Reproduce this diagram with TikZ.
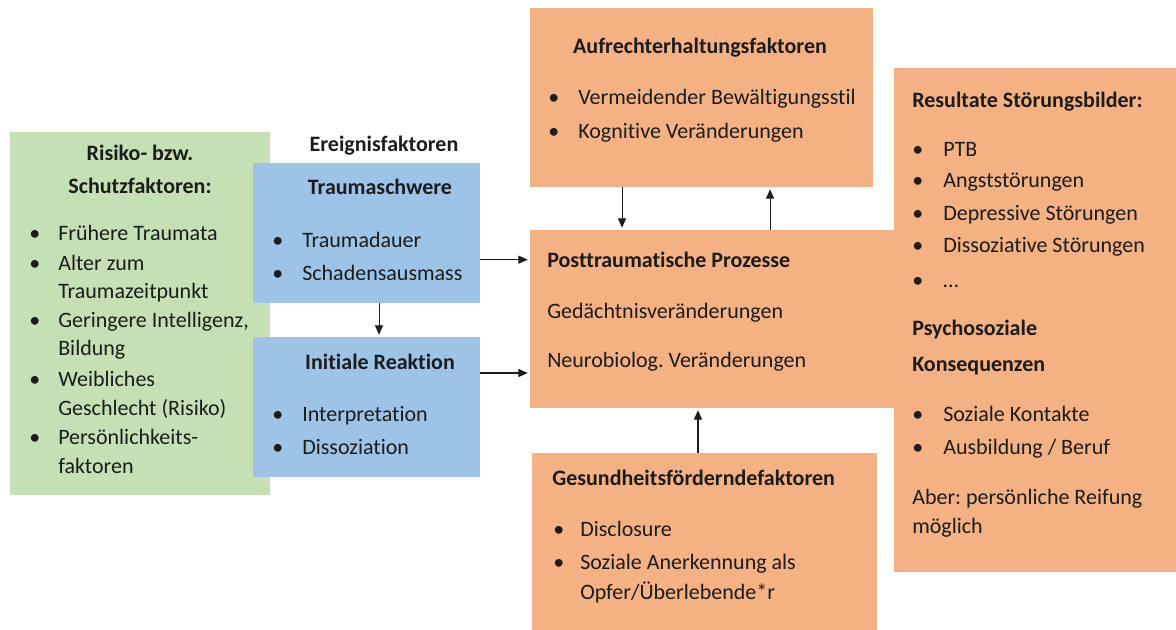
\documentclass[tikz,border=0pt]{standalone}
\usepackage{fontspec}
\setmainfont{Carlito}[Ligatures=NoCommon]
\frenchspacing
\usetikzlibrary{arrows.meta, fit}
\definecolor{cgreen}{HTML}{C5E0B4}
\definecolor{cblue}{HTML}{9DC3E6}
\definecolor{corange}{HTML}{F4B183}
\definecolor{cink}{HTML}{1C1C1C}
\tikzset{
  box/.style={fill=#1, inner sep=0pt},
  txt/.style={anchor=base west, inner sep=0pt, text=cink, font=\fontsize{16.5}{20}\selectfont},
  head/.style={txt, font=\fontsize{16.5}{20}\selectfont\bfseries},
  arrow/.style={-{Triangle[length=7pt, width=6pt]}, line width=0.8pt, draw=cink, shorten >=1.5pt},
}

\begin{document}
\begin{tikzpicture}[x=0.75pt, y=-0.75pt]
  \useasboundingbox (0,0) rectangle (1176,630);
  % boxes
  \node[box=cgreen, fit={(10,132) (270,495)}] (risk) {};
  \node[box=cblue, fit={(253,163) (480,303)}] (schwere) {};
  \node[box=cblue, fit={(253,337) (480,477)}] (reakt) {};
  \node[box=corange, fit={(530,8) (873,187)}] (aufr) {};
  \node[box=corange, fit={(530,230) (905,408)}] (post) {};
  \node[box=corange, fit={(532,453) (877,630)}] (gesund) {};
  \node[box=corange, fit={(894,68) (1176,572)}] (result) {};

  % Risiko- bzw. Schutzfaktoren
  \node[head, anchor=base] (risk-h1) at (140,161) {Risiko- bzw.};
  \node[head, anchor=base] (risk-h2) at (140,194) {Schutzfaktoren:};
  \foreach \y/\t [count=\i] in {241/Frühere Traumata, 271/Alter zum, 299/Traumazeitpunkt,
      328/{Geringere Intelligenz,}, 356/Bildung, 387/Weibliches, 415/{Geschlecht (Risiko)},
      444/Persönlichkeits-, 473/faktoren}
    \node[txt] (risk-\i) at (58,\y) {\t};
  \foreach \y [count=\i] in {241,271,328,387,444}
    \node[txt] (risk-b\i) at (29,\y) {\textbullet};

  % Ereignisfaktoren
  \node[head, anchor=base] (ereig) at (384,152) {Ereignisfaktoren};
  \node[head, anchor=base] (schwere-h) at (380,195) {Traumaschwere};
  \foreach \y/\t [count=\i] in {248/Traumadauer, 281/Schadensausmass} {
    \node[txt] (schwere-b\i) at (272,\y) {\textbullet};
    \node[txt] (schwere-\i) at (302,\y) {\t};
  }
  \node[head, anchor=base] (reakt-h) at (380,369) {Initiale Reaktion};
  \foreach \y/\t [count=\i] in {421/Interpretation, 454/Dissoziation} {
    \node[txt] (reakt-b\i) at (272,\y) {\textbullet};
    \node[txt] (reakt-\i) at (302,\y) {\t};
  }

  % Aufrechterhaltung
  \node[head, anchor=base] (aufr-h) at (700,54) {Aufrechterhaltungsfaktoren};
  \foreach \y/\t [count=\i] in {105/Vermeidender Bewältigungsstil, 139/Kognitive Veränderungen} {
    \node[txt] (aufr-b\i) at (548,\y) {\textbullet};
    \node[txt] (aufr-\i) at (578,\y) {\t};
  }

  % Posttraumatische Prozesse
  \node[head] (post-h) at (547,268) {Posttraumatische Prozesse};
  \node[txt] (post-1) at (547,319) {Gedächtnisveränderungen};
  \node[txt] (post-2) at (547,368) {Neurobiolog. Veränderungen};

  % Gesundheitsfoerdernde
  \node[head] (gesund-h) at (552,485) {Gesundheitsförderndefaktoren};
  \foreach \y/\t [count=\i] in {536/Disclosure, 569/Soziale Anerkennung als} {
    \node[txt] (gesund-b\i) at (553,\y) {\textbullet};
    \node[txt] (gesund-\i) at (580,\y) {\t};
  }
  \node[txt] (gesund-3) at (580,599) {Opfer/Überlebende*r};

  % Resultate
  \node[head] (result-h) at (912,108) {Resultate Störungsbilder:};
  \foreach \y/\t [count=\i] in {157/PTB, 188/Angststörungen, 221/Depressive Störungen,
      253/Dissoziative Störungen, 288/\dots} {
    \node[txt] (result-b\i) at (912,\y) {\textbullet};
    \node[txt] (result-\i) at (943,\y) {\t};
  }
  \node[head] (psy-h1) at (912,335) {Psychosoziale};
  \node[head] (psy-h2) at (912,371) {Konsequenzen};
  \foreach \y/\t [count=\i] in {421/Soziale Kontakte, 454/{Ausbildung / Beruf}} {
    \node[txt] (psy-b\i) at (912,\y) {\textbullet};
    \node[txt] (psy-\i) at (943,\y) {\t};
  }
  \node[txt] (aber-1) at (912,504) {Aber: persönliche Reifung};
  \node[txt] (aber-2) at (912,533) {möglich};

  % connectors
  \draw[arrow] ([xshift=9.4pt]schwere.south) -- ([xshift=9.4pt]reakt.north);
  \draw[arrow] ([yshift=-20pt]schwere.east) -- ([yshift=-20pt]schwere.east -| post.west);
  \draw[arrow] ([yshift=25.5pt]reakt.east) -- ([yshift=25.5pt]reakt.east -| post.west);
  \draw[arrow] ([xshift=-59.6pt]aufr.south) -- ([xshift=-59.6pt]aufr.south |- post.north);
  \draw[arrow] ([xshift=39.4pt]post.north) -- ([xshift=39.4pt]post.north |- aufr.south);
  \draw[arrow] ([xshift=-4.9pt]gesund.north) -- ([xshift=-4.9pt]gesund.north |- post.south);
\end{tikzpicture}
\end{document}
